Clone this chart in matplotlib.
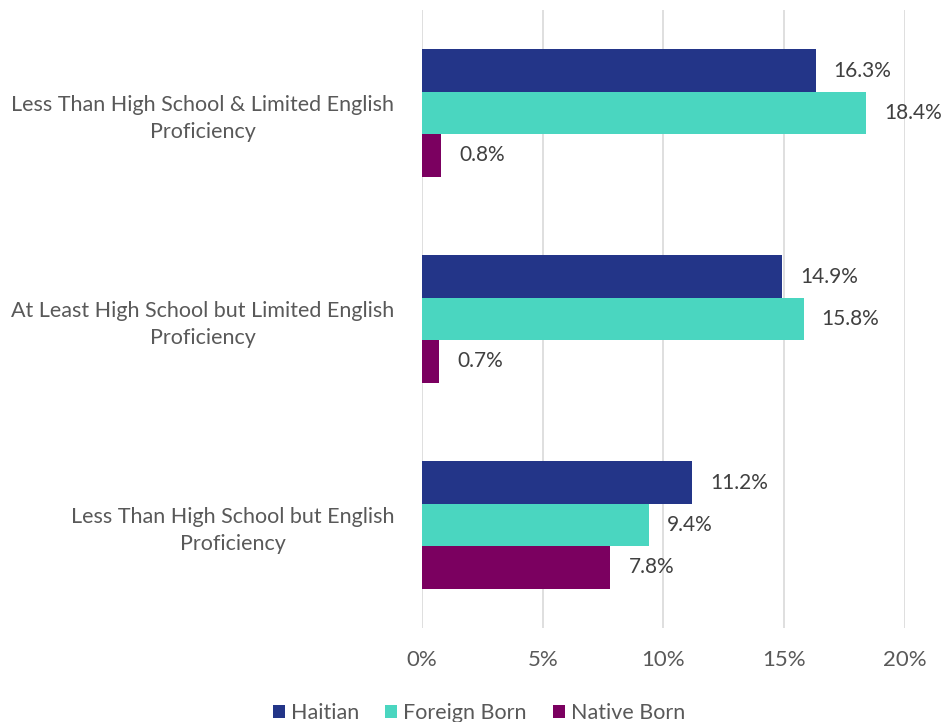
import numpy as np
import matplotlib.pyplot as plt

categories = [
    "Less Than High School & Limited English\nProficiency",
    "At Least High School but Limited English\nProficiency",
    "Less Than High School but English\nProficiency",
]
series = ["Haitian", "Foreign Born", "Native Born"]
haitian = [16.3, 14.9, 11.2]
foreign_born = [18.4, 15.8, 9.4]
native_born = [0.8, 0.7, 7.8]
values = [haitian, foreign_born, native_born]
colors = ["#233588", "#4AD6C0", "#7B0060"]

plt.rcParams["font.family"] = ["Lato", "DejaVu Sans"]

fig = plt.figure(figsize=(9.43, 7.22), dpi=100)
ax = fig.add_axes([0.4475, 0.1302, 0.5122, 0.856])

y = np.arange(len(categories))
h = 0.206
for i, (name, vals, c) in enumerate(zip(series, values, colors)):
    pos = y + (i - 1) * h
    ax.barh(pos, vals, height=h, color=c, label=name, zorder=3)
    for p, v in zip(pos, vals):
        ax.text(v + 0.75, p, f"{v:.1f}%", va="center", ha="left",
                fontsize=15, color="#404040")

ax.set_xlim(0, 20)
ax.set_ylim(2.5, -0.5)
ax.set_xticks([0, 5, 10, 15, 20])
ax.set_xticklabels(["0%", "5%", "10%", "15%", "20%"], fontsize=16)
ax.set_yticks(y)
ax.set_yticklabels(categories, multialignment="center", linespacing=1.45,
                   fontsize=15.5)
ax.tick_params(axis="both", length=0, colors="#595959")
ax.tick_params(axis="x", pad=16)
ax.tick_params(axis="y", pad=20)
ax.grid(axis="x", color="#d9d9d9", linewidth=1.2, zorder=0)
for s in ax.spines.values():
    s.set_visible(False)

fig.legend(loc="center", bbox_to_anchor=(0.508, 0.012), ncol=3, frameon=False,
           fontsize=15.5, handlelength=0.55, handleheight=0.55, handletextpad=0.3,
           columnspacing=1.2, labelcolor="#595959")

fig.savefig("out.png", dpi=100)
